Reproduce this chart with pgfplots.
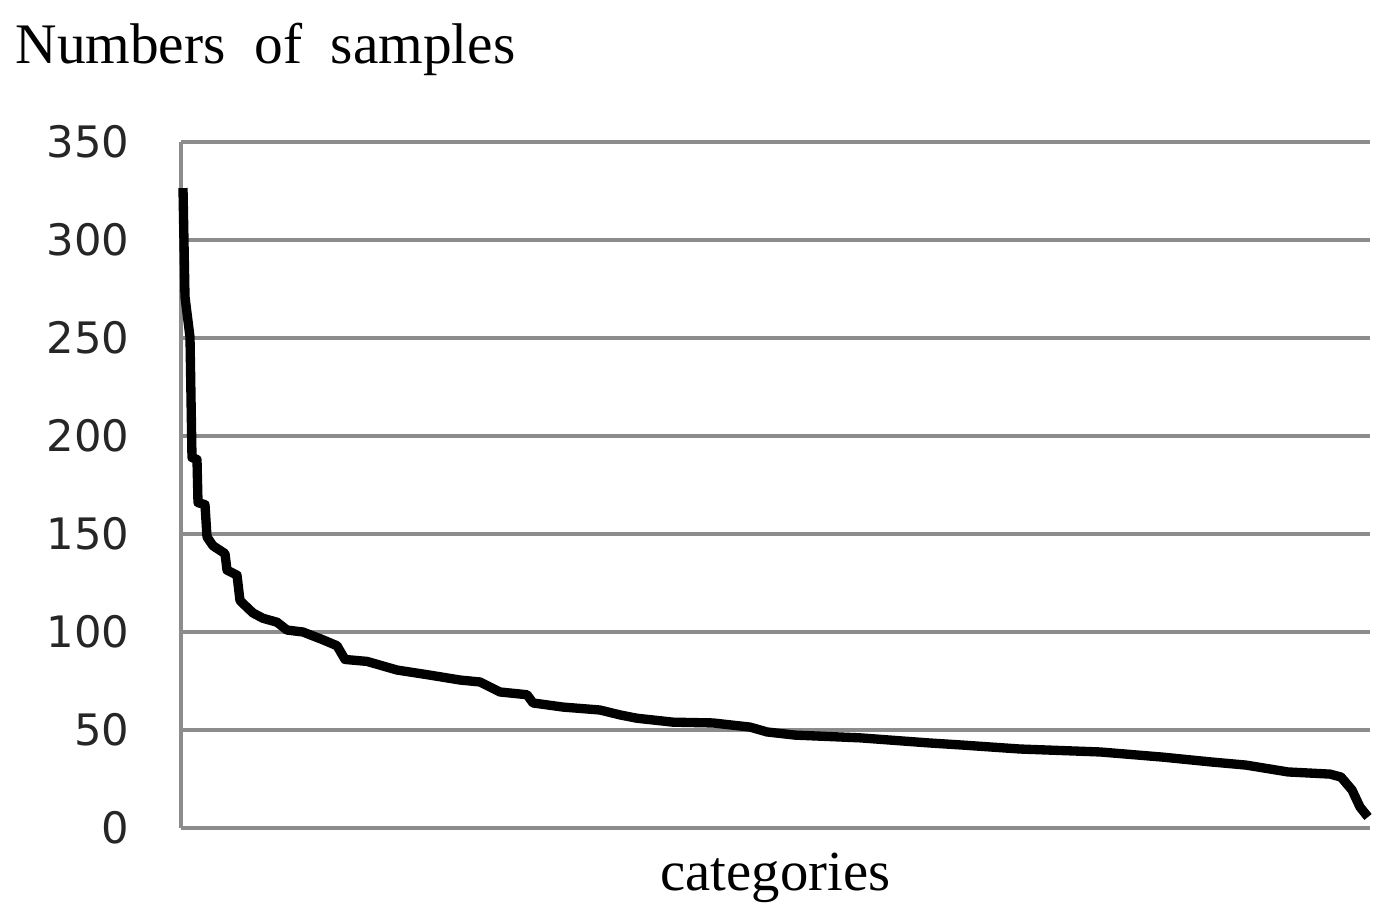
\documentclass[border=0pt]{standalone}
\usepackage{fontspec}
\setmainfont{Liberation Serif}
\newfontfamily\ticksfont{DejaVu Sans}
\usepackage{pgfplots}
\pgfplotsset{compat=1.18}

\begin{document}
\begin{tikzpicture}
\begin{axis}[
scale only axis,width=356.7pt,height=205.8pt,
xmin=0,xmax=1189,ymin=0,ymax=350,
axis lines=left,axis line style={draw=black!45,line width=1pt,-},
xtick=\empty,ytick={0,50,...,350},
ymajorgrids,major grid style={black!45,line width=1pt},
major tick length=0pt,
/pgf/number format/assume math mode=true,
yticklabel style={font=\ticksfont\fontsize{13}{15}\selectfont,text=black!85,xshift=-12pt},
xlabel={categories},
xlabel style={font=\fontsize{17}{19}\selectfont,at={(rel axis cs:0.5,0)},anchor=base,yshift=-18.6pt},
clip=false]
\addplot[black,line width=2.8pt,line join=round] coordinates {
(2,326.5)(4,271)(9,250.5)(11,189)(16,188)(17,166)(24,165)(26,148.5)(32,144)
(44,140)(46,131.6)(56,129)(59,116)(72,109.7)(82,107)(96,105)(106,101)(122,100)
(142,96)(156,93)(164,86)(186,85)(216,80.6)(249,78)(279,75.5)(299,74.5)(319,69.4)
(346,68)(352,63.8)(382,61.7)(419,60.2)(439,57.7)(456,56)(492,54)(532,53.6)(569,51.5)
(586,49)(614,47.4)(679,46)(748,43.4)(782,42.3)(839,40.3)(919,38.8)(981,36.2)
(1030,33.7)(1065,32.1)(1107,28.6)(1149,27.5)(1160,26)(1171,19.4)(1179,10.7)(1187,5.6)
};
\node[anchor=base west,font=\fontsize{17.2}{20}\selectfont,inner sep=0pt]
  at ([xshift=-49.8pt,yshift=23.7pt]rel axis cs:0,1) {Numbers\hspace{0.5em}of\hspace{0.5em}samples};
\coordinate (ll) at (rel axis cs:0,0);
\end{axis}
\path ([xshift=-54.3pt,yshift=-27.9pt]ll) rectangle ([xshift=363.6pt,yshift=248.4pt]ll);
\end{tikzpicture}
\end{document}
